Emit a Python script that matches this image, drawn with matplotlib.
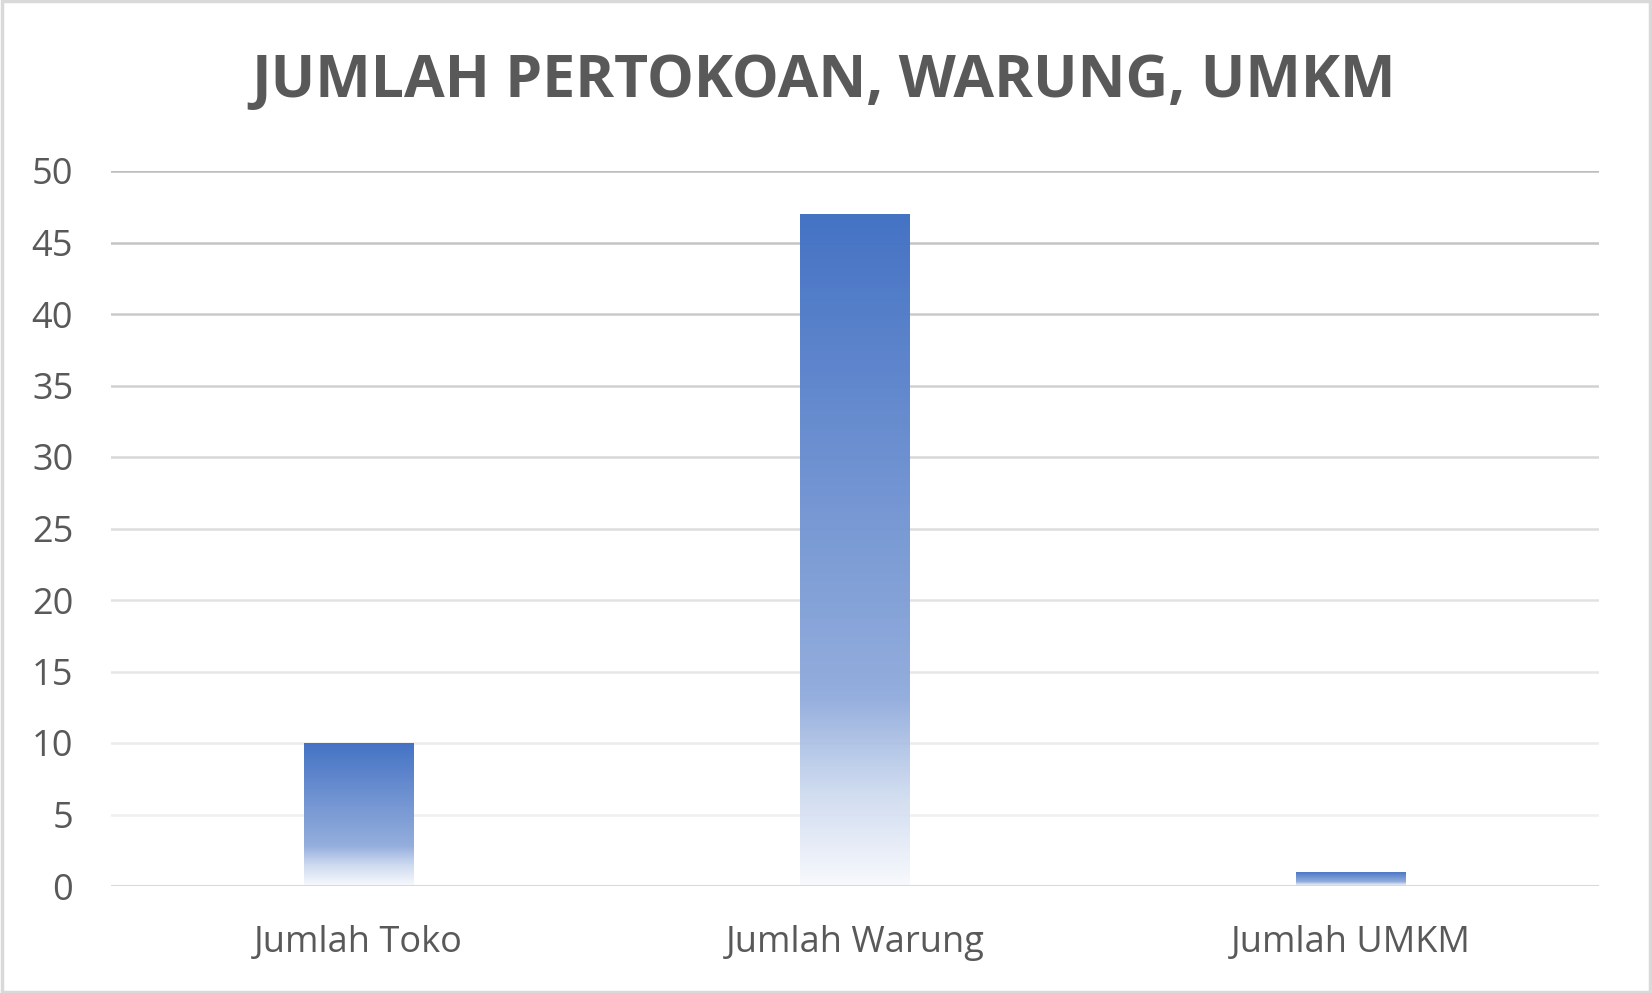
import matplotlib
matplotlib.use("Agg")
import matplotlib.pyplot as plt
import numpy as np
from matplotlib.colors import to_rgb
from matplotlib.patches import Rectangle

categories = ["Jumlah Toko", "Jumlah Warung", "Jumlah UMKM"]
values = [10, 47, 1]
yticks = [0, 5, 10, 15, 20, 25, 30, 35, 40, 45, 50]
title = "JUMLAH PERTOKOAN, WARUNG, UMKM"

TEXT = "#595959"
W, H = 1652, 993
fig = plt.figure(figsize=(W / 100, H / 100), dpi=100)
fig.patch.set_facecolor("white")
ax = fig.add_axes([110.7 / W, 1 - 886 / H, (1599 - 110.7) / W, (886 - 171) / H])
ax.set_xlim(-0.5, len(categories) - 0.5)
ax.set_ylim(0, 50)
for s in ax.spines.values():
    s.set_visible(False)
ax.tick_params(length=0)

# gridlines with Excel-like fading colors (darker at top)
for v in yticks[1:]:
    t = v / 50.0
    g = 0.95 - 0.21 * t ** 1.3
    ax.axhline(v, color=(g, g, g), lw=1.8, zorder=1)
ax.axhline(0, color="#D9D9D9", lw=2.2, zorder=4)

# gradient bars
stops = [(0.0, "#4472C4"), (0.72, "#8EA9DB"), (0.86, "#CAD7EE"), (1.0, "#F6F8FD")]
n = 256
pos = np.linspace(0, 1, n)
cols = np.zeros((n, 1, 4))
sp = [s[0] for s in stops]
for c in range(3):
    cols[:, 0, c] = np.interp(pos, sp, [to_rgb(s[1])[c] for s in stops])
cols[:, 0, 3] = np.interp(pos, [0, 0.7, 1.0], [1.0, 0.95, 0.85])

bw = 0.22
for i, v in enumerate(values):
    x0 = i - bw / 2
    im = ax.imshow(cols, extent=(x0, x0 + bw, 0, v), aspect="auto", zorder=3,
                   interpolation="bilinear")
    rect = Rectangle((x0, 0), bw, v, transform=ax.transData, fill=False, lw=0)
    ax.add_patch(rect)
    im.set_clip_path(rect)
ax.set_xlim(-0.5, len(categories) - 0.5)
ax.set_ylim(0, 50)

ax.set_xticks(range(len(categories)))
ax.set_xticklabels(categories, fontsize=26, color=TEXT, family="Open Sans")
ax.set_yticks(yticks)
ax.set_yticklabels([str(v) for v in yticks], fontsize=26, color=TEXT, family="Open Sans")
ax.tick_params(axis="x", pad=28)
ax.tick_params(axis="y", pad=27)

fig.text(824 / W, 1 - 97 / H, title, ha="center", va="baseline", fontsize=42.5,
         fontweight="bold", color=TEXT, family="Open Sans")

# chart border
fig.add_artist(Rectangle((0.001, 0.0015), 0.998, 0.997, transform=fig.transFigure,
                         fill=False, edgecolor="#D9D9D9", lw=2.5))

fig.savefig("out.png", dpi=100, facecolor="white")
